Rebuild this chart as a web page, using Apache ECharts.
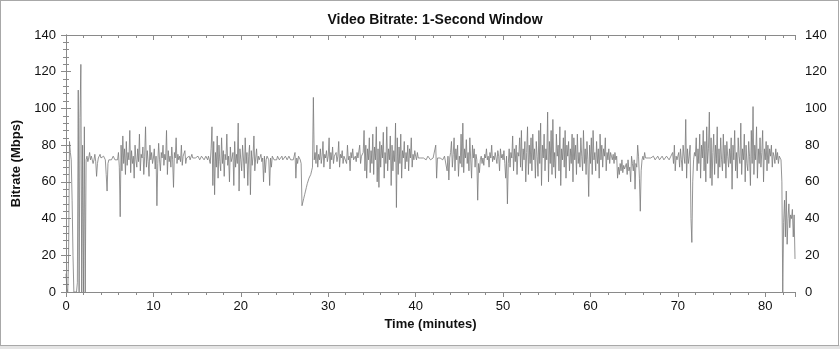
<!DOCTYPE html>
<html><head><meta charset="utf-8">
<script src="https://cdn.jsdelivr.net/npm/echarts@6/dist/echarts.min.js"></script>
<style>
html,body{margin:0;padding:0;background:#fff;}
#strip{position:absolute;left:0;top:345px;width:840px;height:4px;background:#e4e4e4;}
#frame{position:absolute;left:0;top:0;width:839px;height:346px;box-sizing:border-box;border:1px solid #a8a8a8;}
#c{position:absolute;left:0;top:0;width:840px;height:349px;}
</style></head>
<body><div id="strip"></div><div id="frame"></div><div id="c"></div>
<script>
const title = 'Video Bitrate: 1-Second Window';
const xName = 'Time (minutes)';
const yName = 'Bitrate (Mbps)';
const timeStep = 0.1; // minutes between samples
const bitrate = [
10, 2, 0, 20, 82, 76, 72, 50, 20, 0,
0, 0, 0, 5, 110, 0, 95, 124, 0, 80,
0, 90, 0, 72, 74, 71, 73, 76, 72, 74,
73, 70, 72, 75, 71, 63, 70, 73, 74, 75,
73, 72, 73, 74, 73, 72, 64, 55, 70, 72,
73, 73, 72, 73, 74, 73, 72, 73, 73, 72,
76, 68, 41, 80, 66, 85, 70, 78, 64, 82,
69, 76, 72, 88, 65, 77, 70, 74, 62, 80,
72, 68, 78, 71, 86, 66, 75, 73, 79, 64,
74, 90, 68, 77, 71, 63, 80, 72, 76, 70,
73, 78, 67, 74, 47, 70, 81, 72, 66, 76,
73, 80, 69, 75, 72, 88, 64, 77, 71, 74,
68, 79, 72, 57, 76, 73, 84, 70, 75, 72,
74, 71, 80, 69, 74, 73, 77, 70, 73, 74,
73, 74, 72, 73, 75, 73, 72, 74, 73, 72,
73, 74, 73, 72, 73, 74, 73, 73, 72, 73,
74, 73, 72, 74, 73, 70, 78, 90, 58, 82,
53, 76, 68, 85, 62, 80, 71, 66, 84, 70,
77, 63, 75, 72, 86, 69, 74, 60, 79, 71,
73, 76, 58, 82, 68, 75, 70, 92, 55, 78,
72, 66, 80, 73, 62, 84, 70, 76, 58, 74,
80, 53, 77, 69, 74, 85, 66, 73, 78, 70,
74, 72, 73, 75, 71, 73, 60, 74, 65, 72,
74, 73, 72, 58, 73, 68, 74, 73, 72, 73,
73, 72, 74, 73, 72, 73, 73, 74, 72, 73,
73, 74, 73, 72, 73, 74, 73, 72, 73, 73,
72, 74, 76, 62, 73, 70, 74, 73, 72, 70,
47, 49, 51, 53, 55, 57, 59, 60, 62, 63,
64, 66, 68, 106, 72, 76, 70, 80, 68, 75,
72, 78, 70, 74, 82, 68, 75, 73, 77, 71,
74, 84, 67, 76, 72, 79, 70, 74, 73, 76,
71, 74, 82, 68, 75, 73, 77, 70, 74, 73,
75, 70, 80, 72, 74, 66, 76, 73, 78, 72,
73, 74, 71, 76, 73, 72, 80, 70, 74, 73,
76, 88, 66, 80, 62, 78, 72, 84, 65, 77,
70, 86, 64, 79, 72, 90, 60, 78, 57, 82,
68, 80, 73, 87, 62, 76, 70, 90, 66, 78,
72, 85, 58, 80, 66, 77, 71, 92, 46, 84,
64, 79, 70, 86, 62, 77, 73, 82, 67, 76,
71, 80, 66, 78, 73, 84, 68, 75, 72, 77,
74, 72, 76, 73, 72, 74, 73, 73, 72, 73,
73, 73, 72, 73, 74, 73, 73, 72, 73, 73,
73, 74, 73, 80, 62, 73, 73, 72, 73, 73,
73, 72, 73, 74, 73, 73, 66, 74, 61, 73,
76, 82, 68, 75, 84, 66, 78, 72, 80, 63,
74, 70, 86, 68, 92, 65, 78, 73, 83, 70,
76, 66, 84, 72, 62, 80, 73, 78, 68, 75,
72, 50, 70, 65, 72, 74, 70, 73, 69, 75,
73, 78, 72, 74, 68, 76, 73, 80, 71, 74,
72, 76, 73, 70, 77, 74, 66, 78, 73, 75,
72, 77, 70, 62, 74, 48, 70, 78, 68, 76,
73, 85, 66, 78, 71, 80, 64, 76, 74, 84,
68, 88, 66, 78, 72, 82, 60, 76, 90, 64,
80, 70, 84, 66, 86, 72, 78, 62, 82, 74,
63, 88, 70, 92, 58, 80, 73, 86, 66, 78,
72, 98, 60, 82, 70, 88, 64, 94, 68, 76,
62, 86, 74, 80, 66, 90, 58, 78, 72, 84,
68, 88, 62, 80, 74, 82, 66, 78, 70, 86,
60, 84, 72, 80, 64, 86, 70, 76, 68, 84,
74, 66, 88, 70, 78, 64, 82, 72, 52, 80,
70, 84, 64, 88, 72, 76, 66, 82, 70, 78,
62, 86, 72, 80, 68, 78, 74, 84, 66, 76,
72, 78, 70, 76, 74, 72, 75, 70, 76, 72,
74, 62, 68, 64, 70, 66, 72, 65, 69, 67,
66, 70, 64, 72, 66, 68, 60, 74, 70, 66,
72, 56, 70, 68, 80, 74, 62, 44, 66, 72,
74, 72, 76, 73, 72, 74, 73, 72, 73, 73,
73, 73, 74, 73, 72, 73, 73, 74, 73, 72,
73, 73, 74, 73, 72, 73, 73, 74, 73, 73,
72, 73, 74, 73, 76, 70, 80, 66, 74, 72,
73, 76, 68, 78, 72, 66, 80, 74, 70, 94,
62, 78, 70, 74, 80, 40, 27, 60, 72, 76,
74, 84, 66, 78, 70, 86, 62, 80, 73, 88,
66, 82, 60, 90, 70, 78, 98, 62, 84, 58,
76, 86, 64, 80, 70, 90, 62, 78, 68, 84,
72, 66, 86, 70, 80, 62, 82, 74, 68, 78,
70, 84, 56, 80, 72, 88, 66, 76, 62, 84,
74, 70, 92, 64, 78, 72, 86, 60, 80, 70,
66, 82, 74, 58, 88, 70, 101, 64, 80, 72,
90, 62, 78, 70, 84, 68, 76, 88, 60, 78,
72, 82, 66, 80, 70, 78, 74, 80, 68, 76,
74, 70, 78, 72, 76, 70, 74, 75, 72, 60,
0, 38, 50, 30, 55, 26, 40, 48, 35, 42,
40, 45, 30, 42, 18
];
const xMax = 83.4;
const yTicks = [0, 20, 40, 60, 80, 100, 120, 140];

const points = bitrate.map((v, i) => [+(i * timeStep).toFixed(1), v]);
const font = 'Liberation Sans, Arial, sans-serif';
const axisCol = '#8a8a8a';
const labelStyle = {color: '#111', fontSize: 13, fontFamily: font};

const chart = echarts.init(document.getElementById('c'), null, {renderer: 'canvas'});
const yBase = (pos) => ({
  type: 'value', position: pos, min: yTicks[0], max: yTicks[yTicks.length - 1], interval: 20,
  axisLine: {show: true, lineStyle: {color: axisCol}},
  axisTick: {show: true, length: 5, lineStyle: {color: axisCol}},
  minorTick: {show: true, splitNumber: 5, length: 3, lineStyle: {color: axisCol}},
  splitLine: {show: false},
  axisLabel: Object.assign({margin: 10}, labelStyle)
});
chart.setOption({
  animation: false,
  title: {text: title, left: 430, top: 8, textAlign: 'center',
    textStyle: {fontSize: 14, fontWeight: 'bold', color: '#111', fontFamily: font}},
  grid: {left: 66, right: 45, top: 35, bottom: 57, containLabel: false},
  xAxis: [
    {type: 'value', min: 0, max: xMax, interval: 10, position: 'bottom',
     name: xName, nameLocation: 'middle', nameGap: 26,
     nameTextStyle: {fontSize: 13, fontWeight: 'bold', color: '#111', fontFamily: font},
     axisLine: {show: true, onZero: false, lineStyle: {color: axisCol}},
     axisTick: {show: true, length: 5, lineStyle: {color: axisCol}},
     minorTick: {show: true, splitNumber: 5, length: 3, lineStyle: {color: axisCol}},
     splitLine: {show: false},
     axisLabel: Object.assign({margin: 8, showMaxLabel: false}, labelStyle)},
    {type: 'value', min: 0, max: xMax, interval: 10, position: 'top',
     axisLine: {show: true, onZero: false, lineStyle: {color: axisCol}},
     axisTick: {show: true, inside: true, length: 5, lineStyle: {color: axisCol}},
     minorTick: {show: true, splitNumber: 5, length: 3, lineStyle: {color: axisCol}},
     splitLine: {show: false}, axisLabel: {show: false}}
  ],
  yAxis: [
    Object.assign(yBase('left'), {name: yName, nameLocation: 'middle', nameGap: 42, nameRotate: 90,
      nameTextStyle: {fontSize: 13, fontWeight: 'bold', color: '#111', fontFamily: font}}),
    yBase('right')
  ],
  series: [{
    type: 'line', data: points, showSymbol: false, symbol: 'none',
    xAxisIndex: 0, yAxisIndex: 0,
    lineStyle: {color: '#7a7a7a', width: 0.8}
  }]
});
</script></body></html>
